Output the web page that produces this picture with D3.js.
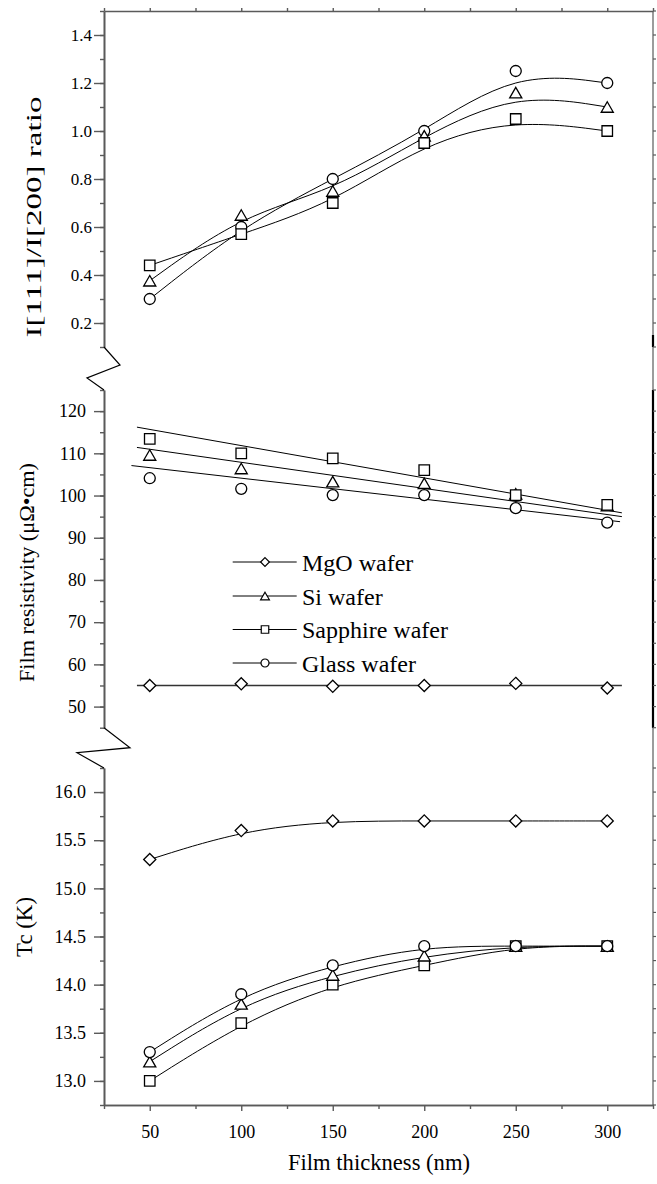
<!DOCTYPE html>
<html>
<head>
<meta charset="utf-8">
<script src="https://cdn.jsdelivr.net/npm/d3@7"></script>
<style>
  html, body { margin: 0; padding: 0; background: #fff; }
  svg { display: block; }
  text { font-family: "Liberation Serif", "Times New Roman", serif; fill: #000; }
</style>
</head>
<body>
<svg id="chart" width="657" height="1184"></svg>
<script>
// ---------------- data ----------------
const thickness = [50, 100, 150, 200, 250, 300];
const xMajorTicks = [50, 100, 150, 200, 250, 300];

// top panel: I[111]/I[200] ratio
const ratioSapphire = [0.44, 0.57, 0.70, 0.95, 1.05, 1.00];
const ratioSi       = [0.376, 0.65, 0.75, 0.98, 1.16, 1.10];
const ratioGlass    = [0.30, 0.60, 0.80, 1.00, 1.25, 1.20];
const ratioTicks = [0.2, 0.4, 0.6, 0.8, 1.0, 1.2, 1.4];

// middle panel: film resistivity
const rhoMgO      = [55.0, 55.4, 54.8, 55.0, 55.5, 54.4];
const rhoSi       = [109.6, 106.4, 103.3, 102.9, 100.4, 97.6];
const rhoSapphire = [113.4, 110.0, 108.8, 106.0, 100.1, 97.8];
const rhoGlass    = [104.1, 101.6, 100.1, 100.1, 97.0, 93.6];
const fitX          = [43, 308];
const fitXGlass     = [40, 307];
const fitMgO        = [55.0, 55.0];
const fitSi         = [111.4, 95.0];
const fitSapphire   = [116.2, 95.9];
const fitGlass      = [107.1, 93.8];
const rhoTicks = [50, 60, 70, 80, 90, 100, 110, 120];

// bottom panel: Tc
const tcMgO      = [15.3, 15.6, 15.7, 15.7, 15.7, 15.7];
const tcSi       = [13.2, 13.8, 14.1, 14.3, 14.4, 14.4];
const tcSapphire = [13.0, 13.6, 14.0, 14.2, 14.4, 14.4];
const tcGlass    = [13.3, 13.9, 14.2, 14.4, 14.4, 14.4];
const tcTicks = [13.0, 13.5, 14.0, 14.5, 15.0, 15.5, 16.0];

const legendLabels = ["MgO wafer", "Si wafer", "Sapphire wafer", "Glass wafer"];
const legendShapes = ["diamond", "triangle", "square", "circle"];

// ---------------- layout ----------------
const svg = d3.select("#chart");
const AX = "#5a5a5a";
const left = 104, right = 653;
const x = d3.scaleLinear().domain([25, 325]).range([left, right]);
const yTop = d3.scaleLinear().domain([0.1, 1.5]).range([347, 11]);
const yMid = d3.scaleLinear().domain([45, 125]).range([727.7, 390]);
const yBot = d3.scaleLinear().domain([12.75, 16.25]).range([1105, 768]);

function shapePath(type, s) {
  const p = d3.path();
  if (type === "square") { p.rect(-s/2, -s/2, s, s); }
  else if (type === "circle") { p.arc(0, 0, s/2, 0, 2*Math.PI); }
  else if (type === "triangle") {
    const w = s * 1.1, h = s * 0.95;
    p.moveTo(0, -h/2); p.lineTo(w/2, h/2); p.lineTo(-w/2, h/2); p.closePath();
  } else if (type === "diamond") {
    const r = s * 0.55;
    p.moveTo(0, -r); p.lineTo(r, 0); p.lineTo(0, r); p.lineTo(-r, 0); p.closePath();
  }
  return p.toString();
}

function drawMarkers(g, vals, y, type, size) {
  g.selectAll(null).data(thickness.map((t, i) => [t, vals[i]]))
    .enter().append("path")
    .attr("d", shapePath(type, size))
    .attr("transform", d => `translate(${x(d[0])},${y(d[1])})`)
    .attr("fill", "#fff").attr("stroke", "#000").attr("stroke-width", 1.3);
}

function drawCurve(g, vals, y) {
  const line = d3.line().x(d => x(d[0])).y(d => y(d[1])).curve(d3.curveBasis);
  g.append("path").attr("d", line(thickness.map((t, i) => [t, vals[i]])))
    .attr("fill", "none").attr("stroke", "#000").attr("stroke-width", 1);
}

function drawFit(g, xs, ys, y, color, w) {
  const line = d3.line().x(d => x(d[0])).y(d => y(d[1]));
  g.append("path").attr("d", line(xs.map((v, i) => [v, ys[i]])))
    .attr("fill", "none").attr("stroke", color).attr("stroke-width", w);
}

function range(a, b, step) {
  const out = []; const n = Math.round((b - a) / step);
  for (let i = 0; i <= n; i++) out.push(+(a + i * step).toFixed(4));
  return out;
}

function styleAxis(g) {
  g.select(".domain").attr("stroke", AX).attr("stroke-width", 1.6);
  g.selectAll(".tick line").attr("stroke", AX).attr("stroke-width", 1.4);
  g.selectAll(".tick text").attr("fill", "#000");
}

function leftAxis(y, major, minor, fmt, pad, fs) {
  const gMin = svg.append("g").attr("transform", `translate(${left},0)`)
    .call(d3.axisLeft(y).tickValues(minor).tickSize(4).tickSizeOuter(0).tickFormat(""));
  styleAxis(gMin);
  const gMaj = svg.append("g").attr("transform", `translate(${left},0)`)
    .call(d3.axisLeft(y).tickValues(major).tickSize(10).tickSizeOuter(0).tickPadding(pad).tickFormat(fmt));
  styleAxis(gMaj);
  gMaj.selectAll(".tick text").style("font-size", fs + "px")
    .style("font-family", '"Liberation Serif", "Times New Roman", serif');
}

function rightTicks(y, ticks, ext) {
  svg.append("g").attr("transform", `translate(${right},0)`)
    .selectAll(null).data(ticks).enter().append("line")
    .attr("x1", 0).attr("x2", ext).attr("y1", d => y(d)).attr("y2", d => y(d))
    .attr("stroke", AX).attr("stroke-width", 1.2);
}

// ---------------- right frame line ----------------
svg.append("line").attr("x1", right).attr("x2", right)
  .attr("y1", yTop.range()[1]).attr("y2", yBot.range()[0])
  .attr("stroke", AX).attr("stroke-width", 1.2);
svg.append("line").attr("x1", right).attr("x2", right)
  .attr("y1", yMid.range()[1]).attr("y2", yMid.range()[0])
  .attr("stroke", "#000").attr("stroke-width", 2.2);
svg.append("line").attr("x1", right).attr("x2", right)
  .attr("y1", yTop.range()[0] - 12).attr("y2", yTop.range()[0])
  .attr("stroke", "#000").attr("stroke-width", 2.2);

// ---------------- top panel ----------------
leftAxis(yTop, ratioTicks, range(0.1, 1.5, 0.1), d3.format(".1f"), 2, 17);
// top frame line with small ticks
const gTopAxis = svg.append("g").attr("transform", `translate(0,${yTop.range()[1]})`)
  .call(d3.axisTop(x).tickValues(range(25, 325, 25)).tickSize(3).tickSizeOuter(0).tickFormat(""));
styleAxis(gTopAxis);
rightTicks(yTop, range(0.1, 1.5, 0.1), 3);

const gTop = svg.append("g");
drawCurve(gTop, ratioSapphire, yTop);
drawCurve(gTop, ratioSi, yTop);
drawCurve(gTop, ratioGlass, yTop);
drawMarkers(gTop, ratioGlass, yTop, "circle", 11);
drawMarkers(gTop, ratioSi, yTop, "triangle", 11);
drawMarkers(gTop, ratioSapphire, yTop, "square", 10.5);

// ---------------- middle panel ----------------
leftAxis(yMid, rhoTicks, range(45, 125, 5), d3.format("d"), 8, 18);
rightTicks(yMid, range(45, 125, 5), 3);

const gMid = svg.append("g");
drawFit(gMid, fitX, fitMgO, yMid, "#333", 1.5);
drawFit(gMid, fitX, fitSi, yMid, "#000", 1);
drawFit(gMid, fitX, fitSapphire, yMid, "#000", 1);
drawFit(gMid, fitXGlass, fitGlass, yMid, "#000", 1);
drawMarkers(gMid, rhoMgO, yMid, "diamond", 11);
drawMarkers(gMid, rhoSi, yMid, "triangle", 11);
drawMarkers(gMid, rhoSapphire, yMid, "square", 10.5);
drawMarkers(gMid, rhoGlass, yMid, "circle", 11);

// legend
const legRows = [562, 596, 629.5, 663];
const lg = svg.append("g");
legendLabels.forEach((lab, i) => {
  const yy = legRows[i];
  lg.append("line").attr("x1", 232.7).attr("x2", 296.7).attr("y1", yy).attr("y2", yy)
    .attr("stroke", "#000").attr("stroke-width", 1);
  lg.append("path").attr("d", shapePath(legendShapes[i], legendShapes[i] === "square" ? 7.5 : 8))
    .attr("transform", `translate(265,${yy})`)
    .attr("fill", "#fff").attr("stroke", "#000").attr("stroke-width", 1.2);
  lg.append("text").attr("x", 302).attr("y", yy + 8.5).style("font-size", "24px").text(lab);
});

// ---------------- bottom panel ----------------
leftAxis(yBot, tcTicks, range(12.75, 16.25, 0.25), d3.format(".1f"), 8, 18);
rightTicks(yBot, range(12.75, 16.25, 0.25), 3);

// x axis
const gXMin = svg.append("g").attr("transform", `translate(0,${yBot.range()[0]})`)
  .call(d3.axisBottom(x).tickValues(range(25, 325, 50)).tickSize(4).tickSizeOuter(0).tickFormat(""));
styleAxis(gXMin);
const gX = svg.append("g").attr("transform", `translate(0,${yBot.range()[0]})`)
  .call(d3.axisBottom(x).tickValues(xMajorTicks).tickSize(6).tickSizeOuter(0).tickPadding(14).tickFormat(d3.format("d")));
styleAxis(gX);
gX.selectAll(".tick text").style("font-size", "18px")
  .style("font-family", '"Liberation Serif", "Times New Roman", serif');

const gBot = svg.append("g");
drawCurve(gBot, tcMgO, yBot);
drawCurve(gBot, tcSi, yBot);
drawCurve(gBot, tcSapphire, yBot);
drawCurve(gBot, tcGlass, yBot);
drawMarkers(gBot, tcMgO, yBot, "diamond", 11);
drawMarkers(gBot, tcSapphire, yBot, "square", 10.5);
drawMarkers(gBot, tcSi, yBot, "triangle", 11);
drawMarkers(gBot, tcGlass, yBot, "circle", 11);

// ---------------- axis breaks ----------------
function breakMark(yStart, yEnd, dx1, dy1, dx2, dy2) {
  const pts = [[left, yStart], [left + dx1, yStart + dy1], [left + dx2, yStart + dy2], [left, yEnd]];
  svg.append("path").attr("d", d3.line()(pts)).attr("fill", "none")
    .attr("stroke", "#000").attr("stroke-width", 1.2);
}
breakMark(yTop.range()[0], yMid.range()[1], 16, 18, -17, 31);
breakMark(yMid.range()[0], yBot.range()[1], 26, 20, -27, 25);

// ---------------- titles ----------------
svg.append("text").attr("transform", "translate(41,217) rotate(-90)")
  .attr("text-anchor", "middle").style("font-size", "22px")
  .attr("textLength", 241).attr("lengthAdjust", "spacingAndGlyphs")
  .text("I[111]/I[200] ratio");
svg.append("text").attr("transform", "translate(34,572.5) rotate(-90)")
  .attr("text-anchor", "middle").style("font-size", "22px")
  .attr("textLength", 219).attr("lengthAdjust", "spacingAndGlyphs")
  .text("Film resistivity (μΩ•cm)");
svg.append("text").attr("transform", "translate(32,927) rotate(-90)")
  .attr("text-anchor", "middle").style("font-size", "24px")
  .attr("textLength", 60).attr("lengthAdjust", "spacingAndGlyphs")
  .text("Tc (K)");
svg.append("text").attr("x", 379).attr("y", 1170)
  .attr("text-anchor", "middle").style("font-size", "24px")
  .attr("textLength", 182).attr("lengthAdjust", "spacingAndGlyphs")
  .text("Film thickness (nm)");
</script>
</body>
</html>
